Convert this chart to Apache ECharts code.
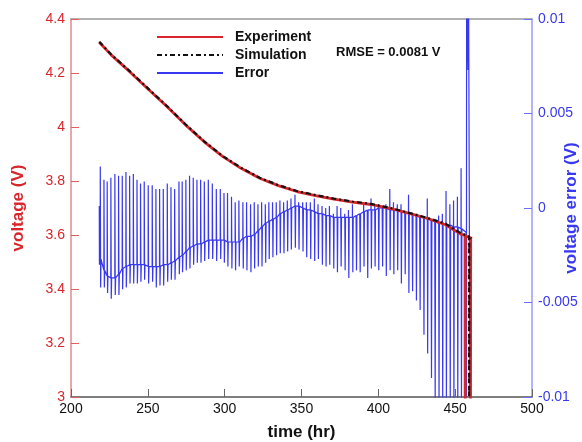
<!DOCTYPE html>
<html>
<head>
<meta charset="utf-8">
<script src="https://cdn.jsdelivr.net/npm/echarts@6/dist/echarts.min.js"></script>
<style>html,body{margin:0;padding:0;background:#fff}#c{width:582px;height:442px}</style>
</head>
<body>
<div id="c"></div>
<script>
// ---- data ----
var xTicks = [200, 250, 300, 350, 400, 450, 500];
var vTicks = [3, 3.2, 3.4, 3.6, 3.8, 4, 4.2, 4.4];
var eTicks = [-0.01, -0.005, 0, 0.005, 0.01];

var expT = [218.4, 226.1, 238.2, 250.3, 262.4, 274.5, 286.5, 298.6, 310.7, 322.8, 334.9, 347.0, 359.1, 371.1, 383.2, 395.3, 407.4, 419.5, 431.6, 443.7, 453.3, 456.4, 456.5, 456.6, 459.9, 460.0, 460.1, 460.8];
var expV = [4.314, 4.267, 4.205, 4.140, 4.076, 4.008, 3.946, 3.891, 3.847, 3.810, 3.783, 3.761, 3.746, 3.733, 3.722, 3.713, 3.699, 3.681, 3.662, 3.638, 3.604, 3.598, 2.95, 3.597, 3.590, 2.95, 3.589, 3.586];

var simT = [218.4, 226.1, 238.2, 250.3, 262.4, 274.5, 286.5, 298.6, 310.7, 322.8, 334.9, 347.0, 359.1, 371.1, 383.2, 395.3, 407.4, 419.5, 431.6, 443.7, 453.3, 456.8, 459.0, 459.1, 459.2, 460.6];
var simV = [4.316, 4.269, 4.207, 4.142, 4.078, 4.010, 3.948, 3.893, 3.849, 3.812, 3.785, 3.763, 3.748, 3.735, 3.724, 3.715, 3.701, 3.683, 3.664, 3.642, 3.608, 3.600, 3.595, 2.95, 3.594, 3.589];

// voltage error: pulse times, baseline, spike tops and spike bottoms
var errT = [219.0, 221.4, 223.5, 225.9, 228.5, 230.9, 233.3, 235.7, 238.1, 240.5, 242.9, 245.2, 247.6, 250.2, 252.8, 255.2, 257.6, 260.0, 262.6, 265.0, 267.4,
  270.2, 272.3, 274.7, 277.1, 279.5, 281.9, 284.3, 286.7, 289.3, 291.9, 294.5, 297.1, 299.5, 301.8, 304.4, 306.8, 309.2, 311.8, 314.2, 316.8, 319.2, 321.6, 324.0, 326.4, 328.7,
  331.1, 333.5, 335.9, 338.3, 340.7, 343.1, 345.7, 348.1, 350.7, 353.1, 355.7, 358.3, 360.7, 363.3, 365.7, 368.1, 370.7, 373.1, 375.5, 378.1, 380.5, 383.1, 385.5, 387.9, 390.4,
  392.8, 395.2, 397.6, 400.0, 402.5, 404.9, 407.4, 409.8, 412.3, 414.7, 417.2, 419.6, 422.0, 424.5, 426.9, 429.4, 431.8, 434.3, 436.7, 439.2, 441.6, 444.0, 446.5, 448.9, 451.4, 453.8];
var errBase = [-0.0027, -0.0033, -0.0036, -0.0037, -0.0037, -0.0035, -0.0032, -0.0031, -0.0030, -0.0030, -0.0030, -0.0030, -0.0030, -0.0031, -0.0031, -0.0031, -0.0031, -0.0030, -0.0030, -0.0029, -0.0028,
  -0.0026, -0.0025, -0.0023, -0.0021, -0.0020, -0.0019, -0.0019, -0.0018, -0.0017, -0.0017, -0.0017, -0.0017, -0.0017, -0.0018, -0.0018, -0.0018, -0.0018, -0.0016, -0.0015, -0.0015, -0.0014, -0.0012, -0.0010, -0.0008, -0.0007,
  -0.0006, -0.0005, -0.0003, -0.0002, -0.0001, 0.0000, 0.0001, 0.0001, 0.0000, -0.0001, -0.0001, -0.0002, -0.0003, -0.0003, -0.0004, -0.0004, -0.0005, -0.0005, -0.0005, -0.0005, -0.0005, -0.0005, -0.0004, -0.0003, -0.0002,
  -0.0001, -0.0001, -0.0001, 0.0000, 0.0000, 0.0000, -0.0001, -0.0001, -0.0001, -0.0002, -0.0002, -0.0003, -0.0003, -0.0004, -0.0005, -0.0005, -0.0006, -0.0006, -0.0007, -0.0008, -0.0008, -0.0009, -0.0009, -0.0010, -0.0010, -0.0011];
var errTop = [0.0022, 0.0015, 0.0014, 0.0016, 0.0018, 0.0017, 0.0017, 0.0019, 0.0017, 0.0018, 0.0015, 0.0013, 0.0014, 0.0012, 0.0012, 0.0010, 0.0010, 0.0010, 0.0013, 0.0011, 0.0010,
  0.0014, 0.0014, 0.0015, 0.0017, 0.0016, 0.0015, 0.0015, 0.0014, 0.0015, 0.0013, 0.0010, 0.0010, 0.0008, 0.0008, 0.0006, 0.0003, 0.0004, 0.0003, 0.0003, 0.0002, 0.0003, 0.0002, 0.0003, 0.0002, 0.0003,
  0.0003, 0.0003, 0.0004, 0.0003, 0.0004, 0.0005, 0.0007, 0.0003, 0.0003, 0.0003, 0.0003, 0.0005, 0.0002, 0.0001, 0.0000, 0.0001, -0.0003, 0.0001, 0.0000, -0.0003, -0.0001, 0.0002, -0.0003, -0.0003, 0.0003,
  -0.0001, 0.0005, 0.0001, 0.0002, 0.0000, 0.0002, 0.0010, 0.0003, 0.0002, 0.0002, -0.0001, 0.0007, -0.0003, -0.0004, -0.0004, -0.0006, 0.0005, -0.0005, -0.0006, -0.0004, -0.0003, 0.0009, 0.0002, 0.0004, 0.0006, 0.0021];
var errBot = [-0.0042, -0.0042, -0.0045, -0.0048, -0.0046, -0.0046, -0.0043, -0.0042, -0.0040, -0.0040, -0.0040, -0.0039, -0.0038, -0.0040, -0.0039, -0.0042, -0.0041, -0.0041, -0.0039, -0.0038, -0.0038,
  -0.0035, -0.0034, -0.0033, -0.0032, -0.0030, -0.0029, -0.0029, -0.0028, -0.0027, -0.0027, -0.0028, -0.0027, -0.0029, -0.0031, -0.0032, -0.0033, -0.0031, -0.0032, -0.0033, -0.0034, -0.0032, -0.0031, -0.0031, -0.0029, -0.0027,
  -0.0026, -0.0025, -0.0024, -0.0024, -0.0023, -0.0022, -0.0021, -0.0022, -0.0023, -0.0026, -0.0027, -0.0028, -0.0027, -0.0030, -0.0031, -0.0030, -0.0032, -0.0034, -0.0031, -0.0033, -0.0037, -0.0034, -0.0033, -0.0034, -0.0031,
  -0.0037, -0.0032, -0.0031, -0.0033, -0.0031, -0.0036, -0.0033, -0.0035, -0.0033, -0.0040, -0.0035, -0.0045, -0.0044, -0.0049, -0.0054, -0.0067, -0.0077, -0.0090, -0.0105, -0.0105, -0.0105, -0.0105, -0.0105, -0.0105, -0.0105, -0.0105];
// start transient and the final large excursion
var errHeadT = [218.4, 218.5];
var errHeadV = [0.0001, -0.0030];
var errTailT = [455.5, 457.2, 457.3, 457.45, 458.3, 458.7, 459.6, 459.7];
var errTailV = [-0.0011, -0.0013, -0.0125, 0.0125, 0.0073, 0.0125, 0.0125, -0.0125];

// ---- build series data ----
function pairs(t, v) { return t.map(function (x, i) { return [x, v[i]]; }); }
var errData = pairs(errHeadT, errHeadV);
for (var i = 0; i < errT.length; i++) {
  errData.push([errT[i], errBase[i]]);
  errData.push([errT[i] + 0.05, errTop[i]]);
  errData.push([errT[i] + 0.3, errBot[i]]);
  errData.push([errT[i] + 0.55, errBase[i]]);
}
errData = errData.concat(pairs(errTailT, errTailV));

var FONT = '"Liberation Sans", Arial, Helvetica, sans-serif';
var RED = '#d9262b', BLUE = '#3838f0';

var chart = echarts.init(document.getElementById('c'), null, {renderer: 'canvas'});
chart.setOption({
  animation: false,
  backgroundColor: '#ffffff',
  textStyle: {fontFamily: FONT},
  grid: {left: 71, right: 50, top: 19, bottom: 45, outerBoundsMode: 'none', containLabel: false},
  legend: {
    orient: 'vertical', left: 156, top: 30, padding: 0, itemWidth: 66, itemHeight: 14, itemGap: 4,
    itemStyle: {opacity: 0},
    textStyle: {fontFamily: FONT, fontSize: 14, fontWeight: 'bold', color: '#111', padding: [0, 0, 0, 7]},
    data: ['Experiment', 'Simulation', 'Error']
  },
  graphic: [{
    type: 'text', left: 336, top: 46,
    style: {text: 'RMSE = 0.0081 V', font: 'bold 13px ' + FONT, fill: '#111'}
  }],
  xAxis: [{
    type: 'value', min: xTicks[0], max: xTicks[xTicks.length - 1], interval: 50,
    name: 'time (hr)', nameLocation: 'middle', nameGap: 27,
    nameTextStyle: {fontFamily: FONT, fontSize: 17, fontWeight: 'bold', color: '#111'},
    axisLine: {onZero: false, lineStyle: {color: '#555', width: 1.5}},
    axisTick: {inside: true, length: 8, lineStyle: {color: '#666'}},
    axisLabel: {fontFamily: FONT, fontSize: 14, color: '#111', margin: 5},
    splitLine: {show: false}
  }, {
    type: 'value', position: 'top', min: xTicks[0], max: xTicks[xTicks.length - 1],
    axisLine: {onZero: false, lineStyle: {color: '#999', width: 1.5}},
    axisTick: {show: false}, axisLabel: {show: false}, splitLine: {show: false}
  }],
  yAxis: [{
    type: 'value', min: vTicks[0], max: vTicks[vTicks.length - 1], interval: 0.2,
    name: 'voltage (V)', nameLocation: 'middle', nameRotate: 90, nameGap: 44, nameMoveOverlap: false,
    nameTextStyle: {fontFamily: FONT, fontSize: 17, fontWeight: 'bold', color: RED},
    axisLine: {show: true, onZero: false, lineStyle: {color: '#e48a8a', width: 1.5}},
    axisTick: {inside: true, length: 8, lineStyle: {color: '#e06060'}},
    axisLabel: {fontFamily: FONT, fontSize: 14, color: RED, margin: 6},
    splitLine: {show: false}
  }, {
    type: 'value', position: 'right', min: eTicks[0], max: eTicks[eTicks.length - 1], interval: 0.005,
    name: 'voltage error (V)', nameLocation: 'middle', nameRotate: 90, nameGap: 31, nameMoveOverlap: false,
    nameTextStyle: {fontFamily: FONT, fontSize: 17, fontWeight: 'bold', color: BLUE},
    axisLine: {show: true, onZero: false, lineStyle: {color: '#9a9aff', width: 1.5}},
    axisTick: {inside: true, length: 8, lineStyle: {color: '#7070ff'}},
    axisLabel: {fontFamily: FONT, fontSize: 14, color: BLUE, margin: 6},
    splitLine: {show: false}
  }],
  series: [{
    name: 'Error', type: 'line', xAxisIndex: 0, yAxisIndex: 1, showSymbol: false, symbol: 'none',
    data: errData, clip: true,
    lineStyle: {color: BLUE, width: 1.2}, itemStyle: {color: BLUE}, z: 2
  }, {
    name: 'Experiment', type: 'line', xAxisIndex: 0, yAxisIndex: 0, showSymbol: false, symbol: 'none',
    data: pairs(expT, expV), clip: true,
    lineStyle: {color: RED, width: 2.8}, itemStyle: {color: RED}, z: 3
  }, {
    name: 'Simulation', type: 'line', xAxisIndex: 0, yAxisIndex: 0, showSymbol: false, symbol: 'none',
    data: pairs(simT, simV), clip: true,
    lineStyle: {color: '#111', width: 2.2, type: [5, 3, 2, 3]}, itemStyle: {color: '#111'}, z: 4
  }]
});
</script>
</body>
</html>
